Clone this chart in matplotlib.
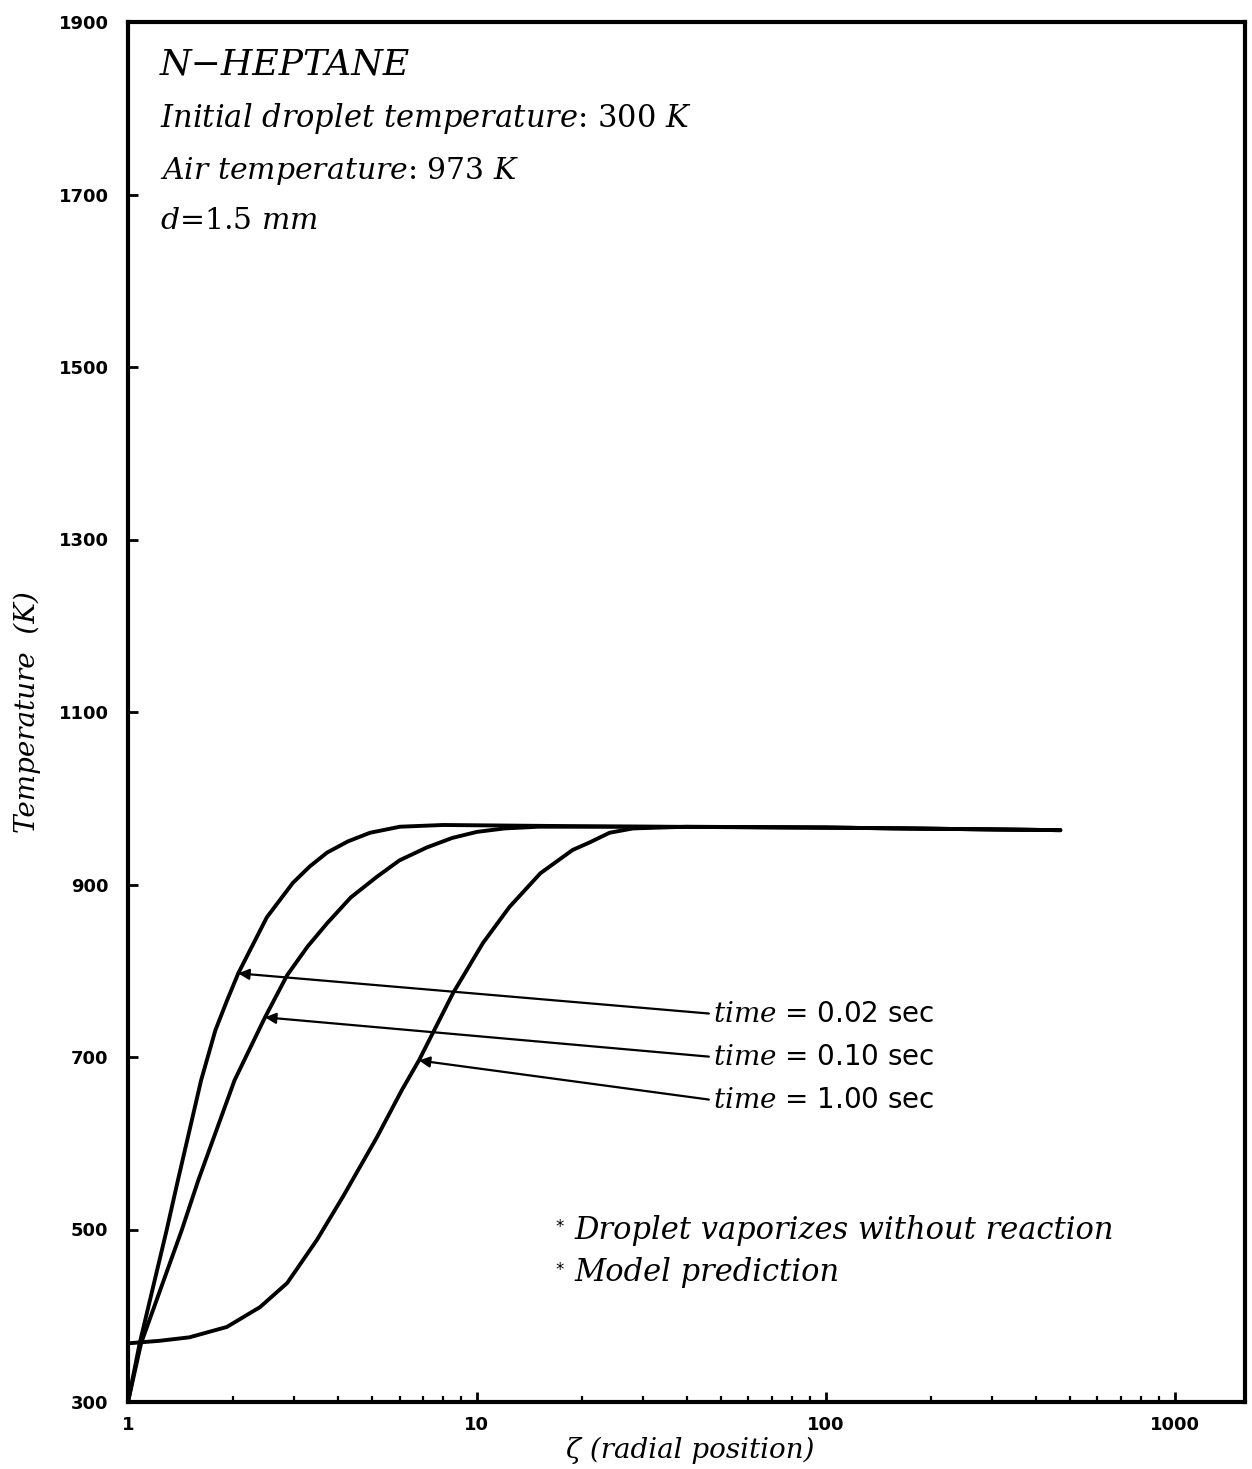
import numpy as np
import matplotlib
matplotlib.use("Agg")
import matplotlib.pyplot as plt
from matplotlib.ticker import FixedLocator, LogLocator, NullFormatter

plt.rcParams["mathtext.fontset"] = "custom"
plt.rcParams["mathtext.rm"] = "DejaVu Serif"
plt.rcParams["mathtext.it"] = "DejaVu Serif:italic"

# radial position (zeta) and temperature (K)
zeta_002 = [1.0, 1.08, 1.29, 1.39, 1.62, 1.78, 1.92, 2.07, 2.5, 2.97, 3.32, 3.72, 4.27, 4.94,
            6.02, 8.0, 15, 30, 100, 470]
temp_002 = [300, 368, 499, 557, 673, 731, 765, 797, 862, 902, 921, 937, 950, 960,
            967, 969, 968, 967, 966, 963]

zeta_010 = [1.0, 1.09, 1.425, 1.59, 2.02, 2.47, 2.86, 3.27, 3.72, 4.35, 5.17, 6.0, 7.19,
            8.5, 10, 12, 15, 30, 100, 470]
temp_010 = [300, 368, 499, 557, 673, 746, 795, 828, 855, 885, 909, 928, 943,
            954, 961, 965, 967, 967, 966, 963]

zeta_100 = [1.0, 1.235, 1.5, 1.92, 2.39, 2.86, 3.48, 4.13, 5.17, 6.1, 6.82, 8.54, 10.4,
            12.4, 15.2, 18.8, 21.1, 24, 28, 40, 100, 470]
temp_100 = [368, 371, 375, 387, 410, 438, 488, 538, 607, 662, 696, 774, 832,
            874, 913, 940, 949, 960, 965, 967, 966, 963]

time_labels = ["0.02", "0.10", "1.00"]
arrow_tip_zeta = [2.07, 2.47, 6.82]
arrow_tip_temp = [797, 746, 696]
label_zeta = 47.5
label_temp = [750, 700, 650]

y_ticks = [300, 500, 700, 900, 1100, 1300, 1500, 1700, 1900]
x_ticks = [1, 10, 100, 1000]
x_tick_labels = ["1", "10", "100", "1000"]

fig = plt.figure(figsize=(12.52, 14.69), dpi=100)
ax = fig.add_axes([128 / 1252, 67 / 1469, 1117 / 1252, 1380 / 1469])

for z, t in [(zeta_002, temp_002), (zeta_010, temp_010), (zeta_100, temp_100)]:
    ax.plot(z, t, color="black", lw=2.8, solid_capstyle="round", solid_joinstyle="round")

ax.set_xscale("log")
ax.set_xlim(1, 1590)
ax.set_ylim(300, 1900)

ax.yaxis.set_major_locator(FixedLocator(y_ticks))
ax.set_yticklabels([str(v) for v in y_ticks])
ax.xaxis.set_major_locator(FixedLocator(x_ticks))
ax.set_xticklabels(x_tick_labels)
ax.xaxis.set_minor_locator(LogLocator(base=10, subs=np.arange(2, 10)))
ax.xaxis.set_minor_formatter(NullFormatter())

ax.tick_params(axis="both", which="major", direction="in", length=7, width=2,
               labelsize=13, top=False, right=False)
ax.tick_params(axis="x", which="minor", direction="in", length=4, width=1.6, top=False)
ax.tick_params(axis="y", pad=14)
ax.tick_params(axis="x", pad=10)
for lab in ax.get_xticklabels() + ax.get_yticklabels():
    lab.set_fontweight("bold")
    lab.set_family("DejaVu Sans")

for sp in ax.spines.values():
    sp.set_linewidth(3)

ax.set_ylabel("Temperature  (K)", family="DejaVu Serif", style="italic", fontsize=20)
ax.yaxis.set_label_coords(-0.078, 0.5)
ax.set_xlabel("ζ (radial position)", family="DejaVu Serif", style="italic", fontsize=20)
ax.xaxis.set_label_coords(0.503, -0.025)

# header block
ax.text(0.0286, 0.969, "N−HEPTANE", transform=ax.transAxes, family="DejaVu Serif",
        style="italic", fontsize=26, va="center", ha="left")
ax.text(0.0286, 0.930, r"$Initial\ droplet\ temperature$: 300 $K$", transform=ax.transAxes,
        family="DejaVu Serif", fontsize=22, va="center", ha="left")
ax.text(0.0286, 0.892, r"$Air\ temperature$: 973 $K$", transform=ax.transAxes,
        family="DejaVu Serif", fontsize=21.5, va="center", ha="left")
ax.text(0.0286, 0.856, r"$d$=1.5 $mm$", transform=ax.transAxes,
        family="DejaVu Serif", fontsize=21.5, va="center", ha="left")

# time labels with arrows
for lab, tz, tt, lt in zip(time_labels, arrow_tip_zeta, arrow_tip_temp, label_temp):
    ax.annotate(r"$time$ = " + lab + " sec", xy=(tz, tt), xytext=(label_zeta, lt),
                textcoords="data", family="DejaVu Sans", fontsize=20, va="center", ha="left",
                arrowprops=dict(arrowstyle="-|>", color="black", lw=1.6, mutation_scale=16,
                                shrinkA=1, shrinkB=0, relpos=(0, 0.5)))

# notes
ax.text(0.383, 0.1265, "*", transform=ax.transAxes, fontsize=12, va="center", ha="left")
ax.text(0.400, 0.1245, "Droplet vaporizes without reaction", transform=ax.transAxes,
        family="DejaVu Serif", style="italic", fontsize=22, va="center", ha="left")
ax.text(0.383, 0.0955, "*", transform=ax.transAxes, fontsize=12, va="center", ha="left")
ax.text(0.400, 0.0935, "Model prediction", transform=ax.transAxes,
        family="DejaVu Serif", style="italic", fontsize=22, va="center", ha="left")

fig.savefig("out.png", dpi=100)
